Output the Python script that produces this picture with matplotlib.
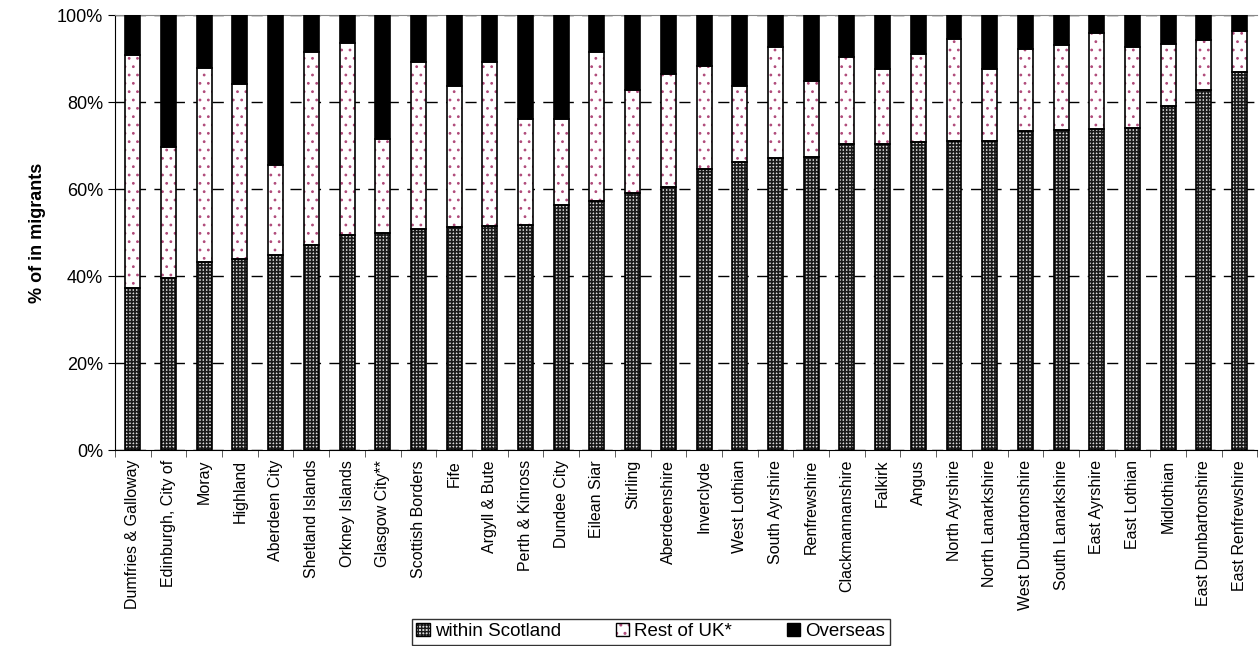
import numpy as np
import matplotlib
matplotlib.use('Agg')
import matplotlib.pyplot as plt
from matplotlib.patches import Patch
from matplotlib.legend_handler import HandlerTuple
from matplotlib.ticker import PercentFormatter

plt.rcParams['font.family'] = ['Liberation Sans', 'DejaVu Sans']

# council areas, sorted by share of in-migrants from within Scotland
areas = ['Dumfries & Galloway', 'Edinburgh, City of', 'Moray', 'Highland',
         'Aberdeen City', 'Shetland Islands', 'Orkney Islands', 'Glasgow City**',
         'Scottish Borders', 'Fife', 'Argyll & Bute', 'Perth & Kinross',
         'Dundee City', 'Eilean Siar', 'Stirling', 'Aberdeenshire', 'Inverclyde',
         'West Lothian', 'South Ayrshire', 'Renfrewshire', 'Clackmannanshire',
         'Falkirk', 'Angus', 'North Ayrshire', 'North Lanarkshire',
         'West Dunbartonshire', 'South Lanarkshire', 'East Ayrshire',
         'East Lothian', 'Midlothian', 'East Dunbartonshire', 'East Renfrewshire']

# % of in-migrants
within_scotland = [37.3, 39.7, 43.3, 44.0, 44.8, 47.2, 49.4, 50.0, 50.9, 51.3,
                   51.6, 51.8, 56.3, 57.3, 59.2, 60.5, 64.6, 66.2, 67.3, 67.4,
                   70.3, 70.4, 70.9, 71.1, 71.2, 73.5, 73.7, 73.9, 74.1, 79.1,
                   82.8, 87.0]
rest_of_uk = [53.6, 30.1, 44.7, 40.1, 20.7, 44.4, 44.2, 21.6, 38.4, 32.4,
              37.7, 24.4, 19.9, 34.3, 23.7, 26.1, 23.8, 17.5, 25.5, 17.5,
              20.1, 17.3, 20.2, 23.5, 16.4, 18.7, 19.5, 22.0, 18.5, 14.4,
              11.6, 9.4]
overseas = [100 - w - r for w, r in zip(within_scotland, rest_of_uk)]

x = np.arange(len(areas))
w = 0.42
within = np.array(within_scotland) / 100
rest = np.array(rest_of_uk) / 100
over = np.array(overseas) / 100

fig = plt.figure(figsize=(12.59, 6.46), dpi=100)
ax = fig.add_axes([0.0913, 0.303, 0.9075, 0.6733])

# within Scotland: dark grid over light grey -> dark bar with light squares
with plt.rc_context({'hatch.linewidth': 1.2}):
    ws = ax.bar(x, within, w, color='#dcdcdc', edgecolor='#1a1a1a', hatch='+++++', lw=0, zorder=2)
ax.bar(x, within, w, fill=False, edgecolor='black', lw=1.2, zorder=3)
# rest of UK: white with small pink dots
with plt.rc_context({'hatch.linewidth': 0.8}):
    ru = ax.bar(x, rest, w, bottom=within, color='white', edgecolor='#b04a7a', hatch='..', lw=0, zorder=2)
ax.bar(x, rest, w, bottom=within, fill=False, edgecolor='black', lw=1.2, zorder=3)
# overseas: solid black
ax.bar(x, over, w, bottom=within + rest, color='black', edgecolor='black', lw=1.2, zorder=3)

ax.set_xlim(-0.5, len(areas) - 0.5)
ax.set_ylim(0, 1)
ax.set_yticks(np.arange(0, 1.01, 0.2))
ax.yaxis.set_major_formatter(PercentFormatter(1.0, decimals=0))
ax.tick_params(axis='y', labelsize=13, length=5, direction='out', color='black')
ax.set_xticks(x)
ax.set_xticklabels(areas, rotation=90, fontsize=11.5)
ax.set_xticks(np.arange(-0.5, len(areas), 1), minor=True)
ax.tick_params(axis='x', which='major', length=0, pad=7)
ax.tick_params(axis='x', which='minor', length=5, color='#444444')
ax.grid(axis='y', linestyle=(0, (8, 6)), color='black', lw=1, zorder=0)
ax.set_ylabel('% of in migrants', fontsize=13, fontweight='bold', labelpad=8)

ax.spines['top'].set_color('#888888')
ax.spines['right'].set_visible(False)
ax.spines['left'].set_color('black')
ax.spines['bottom'].set_color('black')

outline = Patch(fill=False, edgecolor='black', lw=1)
handles = [(ws[0], outline), (ru[0], outline), Patch(facecolor='black', edgecolor='black')]
leg = fig.legend(handles, ['within Scotland', 'Rest of UK*', 'Overseas'],
                 handler_map={tuple: HandlerTuple(ndivide=1)},
                 loc='lower center', bbox_to_anchor=(0.517, -0.013), ncol=3,
                 fontsize=13.5, frameon=True, fancybox=False, edgecolor='black',
                 handlelength=0.7, handleheight=0.7, handletextpad=0.3,
                 columnspacing=2.9, borderpad=0.25)
leg.get_frame().set_linewidth(1)

fig.savefig('out.png', dpi=100)
